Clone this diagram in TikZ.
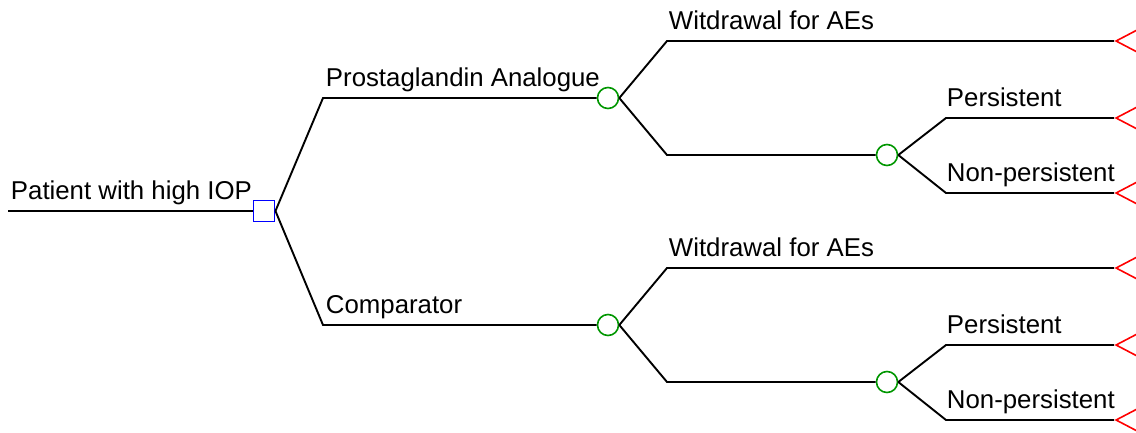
\documentclass[tikz,border=0pt]{standalone}
\usepackage{fontspec}
\setmainfont{Liberation Sans}
\usetikzlibrary{shapes.geometric}
\begin{document}
\begin{tikzpicture}[x=1pt,y=-1pt,line width=1.9pt,every node/.style = {inner sep=0pt},
    decision/.style = {draw=blue,rectangle,minimum size=21pt},
    chance/.style = {draw={rgb,255:red,0;green,150;blue,0},circle,minimum size=21pt,line width=1.6pt},
    terminal/.style = {draw=red,isosceles triangle,shape border rotate=180,isosceles triangle stretches,minimum width=22pt,minimum height=21pt,anchor=apex,line width=1.6pt},
    lbl/.style = {anchor=base west,font=\fontsize{25.8}{30}\selectfont}]
    \useasboundingbox (0,0) rectangle (1136,432);
    \coordinate (start) at (8,211);
    \node[decision] (d) at (264,211) {};
    \node[lbl] (root) at (10,199) {Patient with high IOP};
    % prostaglandin arm
    \coordinate (pa) at (323,98);
    \node[chance] (c1) at (608,98) {};
    \node[lbl] (lpa) at (325,86) {Prostaglandin Analogue};
    \coordinate (w1) at (667,41);
    \coordinate (r1) at (667,155);
    \node[chance] (c2) at (887,155) {};
    \coordinate (p1) at (946,118);
    \coordinate (n1) at (946,193);
    \node[terminal] (t1) at (1114,41) {};
    \node[terminal] (t2) at (1114,118) {};
    \node[terminal] (t3) at (1114,193) {};
    \node[lbl] (lw1) at (668,29) {Witdrawal for AEs};
    \node[lbl] (lp1) at (946,106) {Persistent};
    \node[lbl] (ln1) at (946,181) {Non-persistent};
    % comparator arm
    \coordinate (cp) at (323,325);
    \node[chance] (c3) at (608,325) {};
    \node[lbl] (lcp) at (325,313) {Comparator};
    \coordinate (w2) at (667,268);
    \coordinate (r2) at (667,382);
    \node[chance] (c4) at (887,382) {};
    \coordinate (p2) at (946,345);
    \coordinate (n2) at (946,420);
    \node[terminal] (t4) at (1114,268) {};
    \node[terminal] (t5) at (1114,345) {};
    \node[terminal] (t6) at (1114,420) {};
    \node[lbl] (lw2) at (668,256) {Witdrawal for AEs};
    \node[lbl] (lp2) at (946,333) {Persistent};
    \node[lbl] (ln2) at (946,408) {Non-persistent};
    % connectors
    \draw (start) -- (d.west);
    \draw (d.east) -- (pa) -- (c1.west);
    \draw (d.east) -- (cp) -- (c3.west);
    \draw (c1.east) -- (w1) -- (t1.apex);
    \draw (c1.east) -- (r1) -- (c2.west);
    \draw (c2.east) -- (p1) -- (t2.apex);
    \draw (c2.east) -- (n1) -- (t3.apex);
    \draw (c3.east) -- (w2) -- (t4.apex);
    \draw (c3.east) -- (r2) -- (c4.west);
    \draw (c4.east) -- (p2) -- (t5.apex);
    \draw (c4.east) -- (n2) -- (t6.apex);
\end{tikzpicture}
\end{document}
